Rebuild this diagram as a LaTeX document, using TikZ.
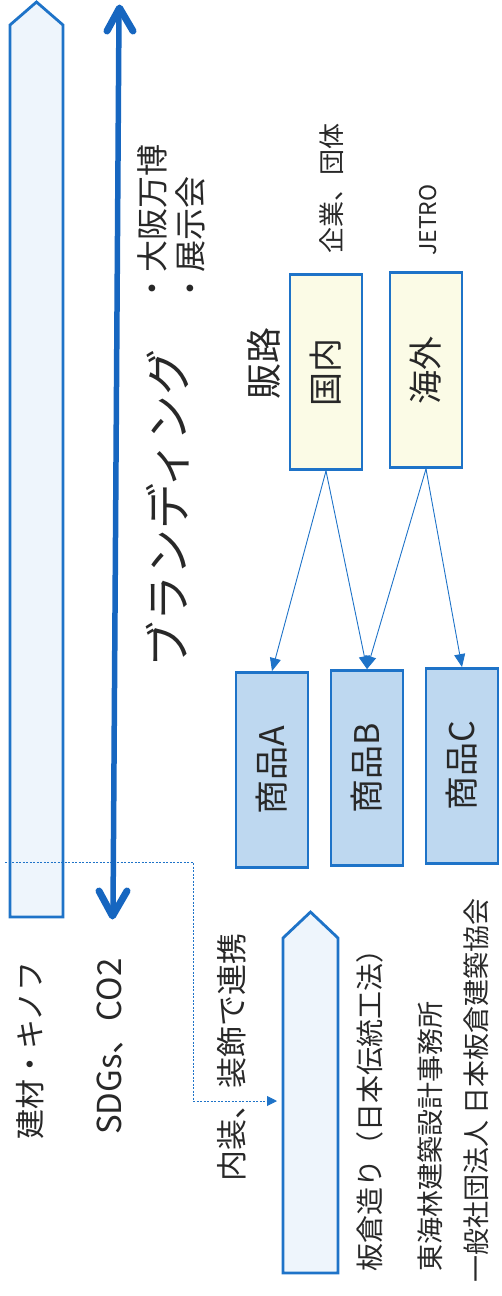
\documentclass[tikz,border=0pt]{standalone}
\usepackage{fontspec}
\usepackage{graphicx}
\setmainfont{Noto Sans CJK JP}
\usetikzlibrary{arrows.meta}

\definecolor{aoline}{RGB}{30,115,200}
\definecolor{aodeep}{RGB}{22,102,192}
\definecolor{aopale}{RGB}{238,245,252}
\definecolor{aofill}{RGB}{190,216,240}
\definecolor{kifill}{RGB}{251,251,230}
\definecolor{sumi}{RGB}{40,40,40}

\newcommand{\tate}[1]{\rotatebox{90}{#1}}
\newcommand{\fs}[1]{\fontsize{#1}{#1}\selectfont}

\begin{document}
\begin{tikzpicture}[
  x=1pt, y=-1pt,
  label/.style={rotate=90, inner sep=0pt, text=sumi},
  hanrobox/.style={draw=aoline, line width=2.8pt, fill=kifill, minimum width=72pt, minimum height=195pt, font=\fs{34}, text=sumi},
  shohinbox/.style={draw=aoline, line width=2.8pt, fill=aofill, minimum width=72pt, minimum height=195pt, font=\fs{34}, text=sumi},
  hashira/.style={draw=aoline, line width=2.8pt, fill=aopale},
  yajirushi/.style={draw=aoline, line width=0.9pt, -{Triangle[length=13pt,width=11pt]}},
  renkeisen/.style={draw=aoline, line width=0.9pt, dash pattern=on 2pt off 1.5pt, -{Triangle[length=10pt,width=10pt]}},
  jiku/.style={draw=aodeep, line width=5.5pt},
  yajiri/.style={draw=aodeep, line width=7pt, line cap=round, line join=round}
]
  \useasboundingbox (0,0) rectangle (502,1296);

  % long bars
  \draw[hashira] (10,917) -- (10,25) -- (36.5,2) -- (63,25) -- (63,917) -- cycle;
  \draw[hashira] (283,1273) -- (283,938) -- (310.5,912) -- (338,938) -- (338,1273) -- cycle;

  % dotted link into the lower bar
  \coordinate (renkei) at (5,862);
  \coordinate (itakura) at (277,1101);
  \draw[renkeisen] (renkei) -- (193,862) |- (itakura);

  % main double arrow
  \draw[jiku] (119,10) -- (113,914);
  \draw[yajiri] (107,31) -- (119.5,8) -- (133,31);
  \draw[yajiri] (99,891) -- (112.5,916) -- (127,891);

  % branding
  \node[label, font=\fs{46}, anchor=west] (branding) at (168,668) {ブランディング};
  \node[label, font=\fs{32}, align=left, anchor=west] (event) at (171,305) {・大阪万博\\[6pt]・展示会};

  % sales routes
  \node[label, font=\fs{36}] (hanro) at (264,363) {販路};
  \node[label, font=\fs{26}] (kigyo) at (332,188) {企業、団体};
  \node[label, font=\fs{23}] (jetro) at (428,220) {JETRO};
  \node[hanrobox] (kokunai) at (326,372) {\tate{国内}};
  \node[hanrobox] (kaigai) at (426,370) {\tate{海外}};

  % products
  \node[shohinbox] (shohinA) at (272,770) {\tate{商品A}};
  \node[shohinbox] (shohinB) at (367,768) {\tate{商品B}};
  \node[shohinbox] (shohinC) at (462,766) {\tate{商品C}};

  \draw[yajirushi] (kokunai.south) -- (shohinA.north);
  \draw[yajirushi] (kokunai.south) -- (shohinB.north);
  \draw[yajirushi] (kaigai.south) -- (shohinB.north);
  \draw[yajirushi] (kaigai.south) -- (shohinC.north);

  % bottom notes
  \node[label, font=\fs{30}, anchor=west] (kenzai) at (30,1140) {建材・キノフ};
  \node[label, font=\fs{33}, anchor=west] (sdgs) at (110,1135) {SDGs、CO2};
  \node[label, font=\fs{31}, anchor=west] (naisou) at (232,1182) {内装、装飾で連携};
  \node[label, font=\fs{28}, anchor=west] (itakurazukuri) at (370,1272) {板倉造り（日本伝統工法）};
  \node[label, font=\fs{27}, anchor=west] (shoji) at (430,1272) {東海林建築設計事務所};
  \node[label, font=\fs{27}, anchor=west] (kyokai) at (476,1283) {一般社団法人 日本板倉建築協会};
\end{tikzpicture}
\end{document}
